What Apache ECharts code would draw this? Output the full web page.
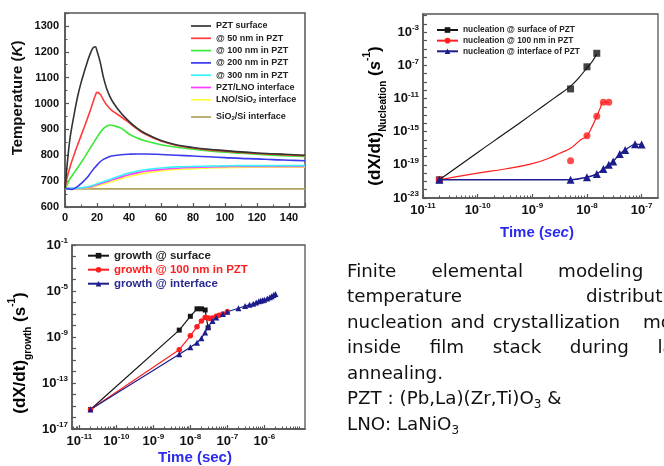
<!DOCTYPE html>
<html><head><meta charset="utf-8">
<script src="https://cdn.jsdelivr.net/npm/echarts@6/dist/echarts.min.js"></script>
<style>
html,body{margin:0;padding:0;background:#fff;width:664px;height:466px;overflow:hidden;}
#c{position:absolute;left:0;top:0;width:664px;height:466px;}
#txt{position:absolute;left:347px;top:258px;font-family:"DejaVu Sans";font-size:18.3px;line-height:25.45px;color:#111;white-space:nowrap;}
#txt .j{width:349px;text-align:justify;text-align-last:justify;white-space:normal;}
#txt sub{font-size:12px;line-height:0;vertical-align:-4px;}
</style></head><body>
<div id="c"></div>
<div id="txt">
<div class="j">Finite elemental modeling of</div>
<div class="j">temperature distribution,</div>
<div style="word-spacing:2px">nucleation and crystallization <span style="padding-left:15px">model</span></div>
<div class="j" style="width:355px">inside film stack during laser</div>
<div>annealing.</div>
<div>PZT : (Pb,La)(Zr,Ti)O<sub>3</sub> &amp;</div>
<div>LNO: LaNiO<sub>3</sub></div>
</div>
<script>
// ---------- Chart 1: temperature vs time ----------
const tempX = [0,1,2,3,4,6,8,10,12,14,16,18,19,20,22,24,26,28,30,35,40,45,50,60,70,80,90,100,110,120,130,140,150];
const tSurface = [672,740,805,860,900,968,1030,1080,1122,1162,1196,1218,1219,1203,1160,1102,1058,1028,1005,963,931,905,885,857,840,830,823,818,813,809,806,803,800];
const t50nm    = [672,705,730,752,772,808,842,875,908,942,977,1015,1032,1043,1036,1014,995,981,970,949,926,902,882,855,838,828,821,816,811,807,804,801,798];
const t100nm   = [672,682,695,709,717,735,753,771,790,810,830,850,860,869,888,903,912,917,915,905,882,867,856,841,831,823,817,812,808,804,800,797,795];
const t200nm   = [672,671,670,669,668,672,680,690,702,715,732,748,755,762,775,784,790,795,798,802,804,805,805,803,800,797,794,791,788,786,783,781,779];
const t300nm   = [672,672,672,672,672,672,673,674,676,678,681,685,687,690,694,698,702,706,711,722,731,738,744,751,755,757,758,759,760,760,760,760,760];
const tPztLno  = [672,672,672,672,672,672,672,673,674,676,678,682,684,686,690,694,698,702,706,716,725,732,738,745,750,753,755,756,757,757,757,757,757];
const tLnoSio2 = [672,672,672,672,672,672,672,672,673,674,676,679,680,682,685,688,692,696,699,709,718,725,731,739,745,748,751,752,753,754,754,754,754];
const tSio2Si  = [670,670,670,670,670,670,670,670,670,670,670,670,670,670,670,670,670,670,670,670,670,670,670,670,670,670,670,670,670,670,670,670,670];
const tempNames = ['PZT surface','@ 50 nm in PZT','@ 100 nm in PZT','@ 200 nm in PZT','@ 300 nm in PZT','PZT/LNO interface','LNO/SiO2 interface','SiO2/Si interface'];
const tempColors = ['#333333','#ff3b3b','#3ae83a','#3a3aee','#3af5f5','#ff3bff','#ffff3a','#b0a25c'];
const tempSeries = [tSurface,t50nm,t100nm,t200nm,t300nm,tPztLno,tLnoSio2,tSio2Si];

// ---------- Chart 2: nucleation rate (log10 values) ----------
const nucTicksX = [-11,-10,-9,-8,-7];
const nucLabelsY = [-23,-19,-15,-11,-7,-3];
const nucSurfFitX = [-10.7,-10,-9.5,-9,-8.6,-8.3,-8.15,-8.0,-7.9,-7.82];
const nucSurfFitY = [-20.8,-17.5,-15.2,-12.85,-10.95,-9.5,-8.5,-7.3,-6.5,-5.6];
const nucSurfPtX = [-10.7,-8.3,-8.0,-7.82];
const nucSurfPtY = [-20.8,-9.84,-7.17,-5.54];
const nuc100FitX = [-10.7,-10,-9.5,-9,-8.7,-8.5,-8.3,-8.12,-8.0,-7.9,-7.82,-7.76,-7.7,-7.6];
const nuc100FitY = [-20.8,-20.0,-19.5,-18.85,-18.2,-17.6,-17.0,-16.0,-15.5,-14.3,-13.15,-12.2,-11.45,-11.45];
const nuc100PtX = [-10.7,-8.3,-8.0,-7.82,-7.7,-7.6];
const nuc100PtY = [-20.8,-18.5,-15.5,-13.15,-11.45,-11.45];
const nucIntPtX = [-10.7,-8.3,-8.0,-7.82,-7.7,-7.6,-7.52,-7.4,-7.3,-7.12,-7.0];
const nucIntPtY = [-20.8,-20.8,-20.5,-20.1,-19.5,-19.0,-18.6,-17.7,-17.2,-16.5,-16.55];

// ---------- Chart 3: growth rate (log10 values) ----------
const grTicksX = [-11,-10,-9,-8,-7,-6];
const grLabelsY = [-17,-13,-9,-5,-1];
const grSurfX = [-10.7,-8.3,-8.0,-7.82,-7.7,-7.6,-7.52];
const grSurfY = [-15.3,-8.4,-7.2,-6.55,-6.55,-6.65,-8.2];
const gr100X = [-10.7,-8.3,-8.0,-7.82,-7.7,-7.6,-7.52,-7.46,-7.4,-7.3,-7.22,-7.12,-7.0];
const gr100Y = [-15.3,-10.1,-8.9,-8.1,-7.6,-7.3,-7.35,-7.4,-7.35,-7.2,-7.1,-7.0,-6.8];
const grIntX = [-10.7,-8.3,-8.0,-7.82,-7.7,-7.6,-7.52,-7.4,-7.3,-7.12,-7.0,-6.7,-6.52,-6.4,-6.3,-6.22,-6.15,-6.1,-6.05,-6.0,-5.92,-5.85,-5.8,-5.75,-5.7];
const grIntY = [-15.3,-10.5,-9.9,-9.5,-9.1,-8.6,-8.1,-7.6,-7.3,-7.0,-6.8,-6.5,-6.3,-6.2,-6.1,-6.0,-5.9,-5.85,-5.8,-5.75,-5.65,-5.55,-5.45,-5.35,-5.25];

const zip = (a,b)=>a.map((v,i)=>[v,b[i]]);
const logMinor = (lo,hi)=>{const r=[];for(let n=Math.floor(lo);n<=Math.ceil(hi);n++){for(let k=2;k<=9;k++){const v=n+Math.log10(k);if(v>lo&&v<hi)r.push(v);}}return r;};
const ints = (lo,hi)=>{const r=[];for(let v=lo;v<=hi;v++)r.push(v);return r;};

const FONT = '"Liberation Sans", Arial, sans-serif';
const AX = '#555';
const supRich = {
  b:{fontFamily:FONT,fontWeight:'bold',fontSize:13,color:'#111',lineHeight:16},
  s:{fontFamily:FONT,fontWeight:'bold',fontSize:8,color:'#111',lineHeight:8,verticalAlign:'top'}
};
const supFmt = v => '{b|10}{s|' + Math.round(v) + '}';

function logAxisMajor(grid, min, max, ticks, labels, isY){
  return {gridIndex:grid,type:'value',min:min,max:max,position:isY?'left':'bottom',
    axisLine:{lineStyle:{color:AX,width:1.5}},
    axisTick:{inside:true,length:4,customValues:ticks,lineStyle:{color:AX,width:1.2}},
    axisLabel:{customValues:labels,formatter:supFmt,rich:supRich,margin:4},
    splitLine:{show:false}};
}
function logAxisMinor(grid, min, max){
  return {gridIndex:grid,type:'value',min:min,max:max,position:'bottom',
    axisLine:{show:false},
    axisTick:{inside:true,length:2.5,customValues:logMinor(min,max),lineStyle:{color:AX,width:1}},
    axisLabel:{show:false},splitLine:{show:false}};
}

const subRich = {sub:{fontFamily:FONT,fontWeight:'bold',fontSize:6,color:'#222',lineHeight:6,verticalAlign:'bottom'}};
const legendFmt = n => n.replace(/SiO2/g,'SiO{sub|2}');
const lineIcon = 'path://M0,0h20v1.7h-20z';

const series = [];
tempSeries.forEach((arr,i)=>{
  series.push({name:tempNames[i],type:'line',xAxisIndex:0,yAxisIndex:0,smooth:0.4,symbol:'none',
    data:zip(tempX,arr),lineStyle:{color:tempColors[i],width:1.6},itemStyle:{color:tempColors[i]},z:10-i});
});
const BLK='#151515', RED='#ff1e1e', NAVY='#1c1c8c';
series.push({name:'nucleation @ surface of PZT',type:'line',xAxisIndex:1,yAxisIndex:1,smooth:true,symbol:'rect',symbolSize:6,showSymbol:false,data:zip(nucSurfFitX,nucSurfFitY),lineStyle:{color:BLK,width:1.2},itemStyle:{color:BLK}});
series.push({name:'_s1',type:'scatter',xAxisIndex:1,yAxisIndex:1,symbol:'rect',symbolSize:7,data:zip(nucSurfPtX,nucSurfPtY),itemStyle:{color:BLK}});
series.push({name:'nucleation @ 100 nm in PZT',type:'line',xAxisIndex:1,yAxisIndex:1,smooth:true,symbol:'circle',symbolSize:6,showSymbol:false,data:zip(nuc100FitX,nuc100FitY),lineStyle:{color:RED,width:1.2},itemStyle:{color:RED}});
series.push({name:'_s2',type:'scatter',xAxisIndex:1,yAxisIndex:1,symbol:'circle',symbolSize:7,data:zip(nuc100PtX,nuc100PtY),itemStyle:{color:RED}});
series.push({name:'nucleation @ interface of PZT',type:'line',xAxisIndex:1,yAxisIndex:1,smooth:0.2,symbol:'triangle',symbolSize:8,data:zip(nucIntPtX,nucIntPtY),lineStyle:{color:NAVY,width:1.4},itemStyle:{color:NAVY}});
series.push({name:'growth @ surface',type:'line',xAxisIndex:3,yAxisIndex:2,symbol:'rect',symbolSize:5,data:zip(grSurfX,grSurfY),lineStyle:{color:BLK,width:1.2},itemStyle:{color:BLK}});
series.push({name:'growth @ 100 nm in PZT',type:'line',xAxisIndex:3,yAxisIndex:2,symbol:'circle',symbolSize:5.5,data:zip(gr100X,gr100Y),lineStyle:{color:RED,width:1.2},itemStyle:{color:RED}});
series.push({name:'growth @ interface',type:'line',xAxisIndex:3,yAxisIndex:2,symbol:'triangle',symbolSize:6,data:zip(grIntX,grIntY),lineStyle:{color:NAVY,width:1.2},itemStyle:{color:NAVY}});

const TB = '#2a2af0';
const option = {
  animation:false,
  grid:[
    {left:65,top:13,width:240,height:194,show:true,borderColor:AX,borderWidth:1.5,backgroundColor:'transparent'},
    {left:423,top:14,width:235,height:184,show:true,borderColor:AX,borderWidth:1.3},
    {left:72,top:245,width:233,height:184,show:true,borderColor:AX,borderWidth:1.3}
  ],
  xAxis:[
    {gridIndex:0,type:'value',min:0,max:150,interval:20,
      axisLine:{lineStyle:{color:AX,width:1.5}},
      axisTick:{inside:true,length:4,lineStyle:{color:AX,width:1.2}},
      minorTick:{show:true,splitNumber:2,length:2.5,lineStyle:{color:AX}},
      splitLine:{show:false},
      axisLabel:{fontFamily:FONT,fontWeight:'bold',fontSize:11,color:'#111',margin:5,showMaxLabel:false,formatter:v=>String(v)}},
    logAxisMajor(1,-11,-6.7,nucTicksX,nucTicksX,false),
    logAxisMinor(1,-11,-6.7),
    logAxisMajor(2,-11.2,-4.9,grTicksX,grTicksX,false),
    logAxisMinor(2,-11.2,-4.9)
  ],
  yAxis:[
    {gridIndex:0,type:'value',min:600,max:1350,interval:100,
      axisLine:{lineStyle:{color:AX,width:1.5}},
      axisTick:{inside:true,length:4,lineStyle:{color:AX,width:1.2}},
      minorTick:{show:true,splitNumber:2,length:2.5,lineStyle:{color:AX}},
      splitLine:{show:false},
      axisLabel:{fontFamily:FONT,fontWeight:'bold',fontSize:11,color:'#111',margin:6,showMaxLabel:false,formatter:v=>String(v)}},
    logAxisMajor(1,-23,-0.8,ints(-23,-1),nucLabelsY,true),
    logAxisMajor(2,-17,-1,ints(-17,-1),grLabelsY,true)
  ],
  legend:[
    {left:191,top:21.5,padding:0,orient:'vertical',itemWidth:20,itemHeight:9,itemGap:3.3,icon:lineIcon,
      data:tempNames.slice(0,7),formatter:legendFmt,
      textStyle:{fontFamily:FONT,fontWeight:'bold',fontSize:9,color:'#222',rich:subRich}},
    {left:191,top:112.5,padding:0,orient:'vertical',itemWidth:20,itemHeight:9,icon:lineIcon,
      data:tempNames.slice(7),formatter:legendFmt,
      textStyle:{fontFamily:FONT,fontWeight:'bold',fontSize:9,color:'#222',rich:subRich}},
    {left:436,top:26,padding:0,orient:'vertical',itemWidth:21,itemHeight:7,itemGap:2.65,
      data:['nucleation @ surface of PZT','nucleation @ 100 nm in PZT','nucleation @ interface of PZT'],
      textStyle:{fontFamily:FONT,fontWeight:'bold',fontSize:8.3,color:'#222'}},
    {left:87,top:249.7,padding:0,orient:'vertical',itemWidth:21,itemHeight:7,itemGap:2,
      data:[{name:'growth @ surface',textStyle:{color:'#222'}},{name:'growth @ 100 nm in PZT',textStyle:{color:RED}},{name:'growth @ interface',textStyle:{color:'#2a2a90'}}],
      textStyle:{fontFamily:FONT,fontWeight:'bold',fontSize:11.5}}
  ],
  graphic:[
    {type:'text',x:18,y:98,rotation:Math.PI/2,style:{text:'Temperature ({i|K})',align:'center',verticalAlign:'middle',
      font:'bold 15px '+FONT,fill:'#111',rich:{i:{fontFamily:FONT,fontWeight:'bold',fontStyle:'italic',fontSize:15,fill:'#111'}}}},
    {type:'text',x:375,y:116,rotation:Math.PI/2,style:{text:'{a|(dX/dt)}{sub|Nucleation}{a| (}{i|s}{sup|-1}{a|)}',align:'center',verticalAlign:'middle',
      rich:{a:{fontFamily:FONT,fontWeight:'bold',fontSize:17,color:TB,lineHeight:26},
            i:{fontFamily:FONT,fontWeight:'bold',fontStyle:'italic',fontSize:17,color:TB,lineHeight:26},
            sub:{fontFamily:FONT,fontWeight:'bold',fontSize:10,color:TB,lineHeight:10,verticalAlign:'bottom'},
            sup:{fontFamily:FONT,fontWeight:'bold',fontSize:10,color:TB,lineHeight:10,verticalAlign:'top'}}}},
    {type:'text',x:537,y:233,style:{text:'Time ({i|sec})',align:'center',verticalAlign:'middle',font:'bold 15px '+FONT,fill:TB,
      rich:{i:{fontFamily:FONT,fontWeight:'bold',fontStyle:'italic',fontSize:15,color:TB}}}},
    {type:'text',x:20,y:353,rotation:Math.PI/2,style:{text:'{a|(dX/dt)}{sub|growth}{a| (}{a|s}{sup|-1}{a|)}',align:'center',verticalAlign:'middle',
      rich:{a:{fontFamily:FONT,fontWeight:'bold',fontSize:17,color:TB,lineHeight:26},
            sub:{fontFamily:FONT,fontWeight:'bold',fontSize:10,color:TB,lineHeight:10,verticalAlign:'bottom'},
            sup:{fontFamily:FONT,fontWeight:'bold',fontSize:10,color:TB,lineHeight:10,verticalAlign:'top'}}}},
    {type:'text',x:195,y:458,style:{text:'Time (sec)',align:'center',verticalAlign:'middle',font:'bold 15px '+FONT,fill:TB}}
  ],
  series:series
};
const chart = echarts.init(document.getElementById('c'));
chart.setOption(option);
</script>
</body></html>
